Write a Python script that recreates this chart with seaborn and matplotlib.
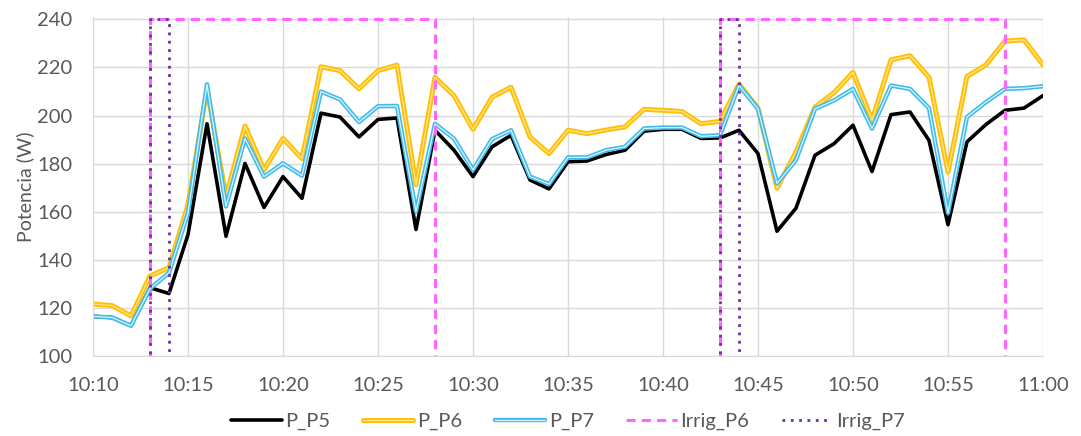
import matplotlib
matplotlib.use("Agg")
import matplotlib.pyplot as plt
import matplotlib.dates as mdates
import matplotlib.patheffects as pe
import numpy as np
import pandas as pd
import seaborn as sns

# power readings, one per minute from 10:10 to 11:00
minutes = pd.date_range("2020-01-01 10:10", "2020-01-01 11:00", freq="1min")
p_p5 = [116.5, 116, 112.6, 128.4, 126, 150.5, 196.6, 149.8, 180.1, 161.8, 174.6, 165.6, 201, 199.4,
        191.1, 198.4, 199, 152.6, 193.9, 185.6, 174.6, 187, 191.8, 173.2, 169.5, 180.8, 181.1, 183.8,
        185.6, 193.5, 194.3, 194.3, 190.5, 190.7, 193.9, 184.2, 151.9, 161.5, 183.5, 188.3, 196, 176.7,
        200.4, 201.5, 189.7, 154.6, 189.1, 196.3, 202.2, 203.1, 208.3]
p_p6 = [121.6, 121, 116.7, 133.3, 136.7, 163, 211, 166.3, 195.7, 177.4, 190.5, 182.1, 220.3, 218.7,
        211.1, 218.7, 221, 171.2, 215.9, 208.3, 194.3, 207.6, 211.8, 191.1, 184.2, 193.9, 192.5, 194,
        195.3, 202.6, 202.2, 201.7, 196.6, 197.6, 213.1, 203.1, 169.8, 184.9, 203.5, 209.5, 218, 198,
        223.2, 224.9, 215.9, 176.5, 216.3, 221.1, 231, 231.5, 221.1]
p_p7 = [116.5, 116, 112.6, 128, 134.6, 159.5, 213, 162.2, 190.5, 174.6, 180.1, 175, 210, 206.7,
        197.3, 203.9, 204, 160.1, 196.6, 190.4, 177.4, 190.2, 193.9, 174.6, 171.5, 182.6, 182.6, 185.6,
        187, 194.6, 195, 195, 191.4, 191.8, 212.6, 202.8, 171.8, 181.5, 202.8, 206.3, 211.1, 194.6,
        212.5, 211.1, 203.1, 159.5, 199.4, 205.6, 211.1, 211.4, 212.2]

# irrigation on/off as steps
irrig_p6_time = ["10:10", "10:13", "10:13", "10:28", "10:28", "10:43", "10:43", "10:58", "10:58", "11:00"]
irrig_p6 = [0, 0, 240, 240, 0, 0, 240, 240, 0, 0]
irrig_p7_time = ["10:10", "10:13", "10:13", "10:14", "10:14", "10:43", "10:43", "10:44", "10:44", "11:00"]
irrig_p7 = [0, 0, 240, 240, 0, 0, 240, 240, 0, 0]

t6 = pd.to_datetime(["2020-01-01 " + t for t in irrig_p6_time])
t7 = pd.to_datetime(["2020-01-01 " + t for t in irrig_p7_time])

sns.set_style("white")
plt.rcParams["font.family"] = ["Lato", "DejaVu Sans"]
txt = "#595959"

fig = plt.figure(figsize=(10.81, 4.36), dpi=100)
ax = fig.add_axes([93 / 1081, 80 / 436, 950 / 1081, 339 / 436])

sns.lineplot(x=minutes, y=p_p5, ax=ax, color="black", lw=2.6, label="P_P5")
sns.lineplot(x=minutes, y=p_p6, ax=ax, color="#FFE08A", lw=1.0, label="P_P6",
             path_effects=[pe.Stroke(linewidth=3.6, foreground="#FFC000"), pe.Normal()])
sns.lineplot(x=minutes, y=p_p7, ax=ax, color="#DDF3FC", lw=0.9, label="P_P7",
             path_effects=[pe.Stroke(linewidth=3.2, foreground="#3FBCEB"), pe.Normal()])
sns.lineplot(x=t6, y=irrig_p6, ax=ax, color="#FF66FF", lw=2.2, ls=(0, (3, 2)), label="Irrig_P6",
             estimator=None, sort=False)
sns.lineplot(x=t7, y=irrig_p7, ax=ax, color="#7030A0", lw=2.0, ls=(0, (1, 2)), label="Irrig_P7",
             estimator=None, sort=False)

ax.set_xlim(minutes[0], minutes[-1])
ax.set_ylim(100, 241)
ax.set_yticks(np.arange(100, 241, 20))
ax.xaxis.set_major_locator(mdates.MinuteLocator(byminute=range(0, 60, 5)))
ax.xaxis.set_major_formatter(mdates.DateFormatter("%H:%M"))
ax.grid(True, color="#D9D9D9", lw=1)
ax.set_axisbelow(True)
for s in ["top", "right"]:
    ax.spines[s].set_visible(False)
ax.spines["left"].set_color("#D9D9D9")
ax.spines["bottom"].set_color("#D9D9D9")
ax.tick_params(axis="both", labelsize=14.5, colors=txt, length=0)
ax.tick_params(axis="y", pad=15)
ax.tick_params(axis="x", pad=15)
ax.set_ylabel("Potencia (W)", fontsize=14, color=txt, labelpad=2)
ax.set_xlabel("")

ax.legend(loc="upper center", bbox_to_anchor=(0.5, -0.115), ncol=5, frameon=False,
          fontsize=14.5, labelcolor=txt, handlelength=2.5, handletextpad=0.2, columnspacing=1.6)

fig.savefig("out.png", dpi=100)
